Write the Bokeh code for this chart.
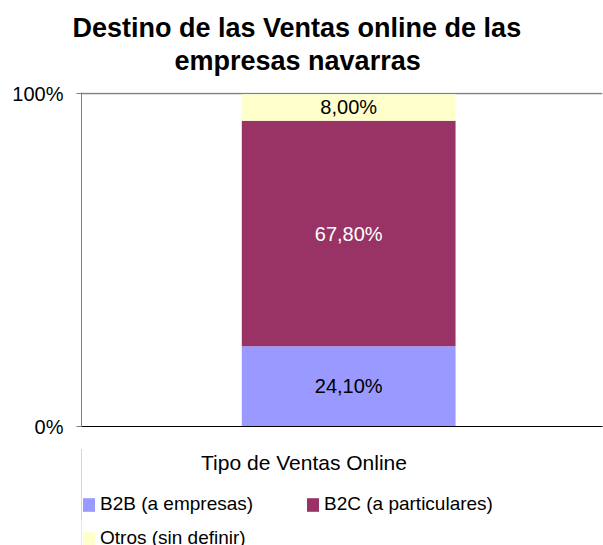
from bokeh.plotting import figure
from bokeh.layouts import column
from bokeh.models import (Range1d, FixedTicker, Title, Legend, LegendItem,
                          ColumnDataSource, Label)
from bokeh.core.properties import value
from bokeh.embed import file_html
from bokeh.resources import INLINE

# ---- data ----
title_lines = ["Destino de las Ventas online de las", "empresas navarras"]
x_title = "Tipo de Ventas Online"
series = ["B2B (a empresas)", "B2C (a particulares)", "Otros (sin definir)"]
values = [24.10, 67.80, 8.00]
colors = ["#9999FF", "#993366", "#FFFFCC"]
label_colors = ["black", "white", "black"]
y_ticks = [0, 100]
y_tick_labels = ["0%", "100%"]

FONT = "Liberation Sans"
W = 603
H_MAIN = 440
H_LEG = 105

bottoms, tops = [], []
acc = 0.0
for v in values:
    bottoms.append(acc)
    acc += v
    tops.append(acc)

# ---------------- main chart ----------------
p = figure(width=W, height=H_MAIN, output_backend="svg", toolbar_location=None,
           x_range=Range1d(-1.0, 0.95), y_range=Range1d(0, 100.4),
           min_border_left=81, min_border_top=92, min_border_bottom=14,
           min_border_right=1, title=None)
p.outline_line_color = None
p.background_fill_color = "white"
p.border_fill_color = "white"

src = ColumnDataSource(dict(
    x=[0.0] * len(values),
    mid=[(b + t) / 2 for b, t in zip(bottoms, tops)],
    txt=[("%.2f%%" % v).replace(".", ",") for v in values],
    tcol=label_colors))

for i in range(len(values)):
    p.vbar(x=[0.0], bottom=[bottoms[i]], top=[tops[i]], width=0.8,
           fill_color=colors[i], line_color=None)

p.text(x="x", y="mid", text="txt", source=src, text_color="tcol",
       text_align="center", text_baseline="middle",
       text_font=value(FONT), text_font_size="20px")

p.xaxis.ticker = FixedTicker(ticks=[])
p.xaxis.major_label_text_font_size = "0px"
p.xaxis.major_label_standoff = 0
p.xaxis.axis_line_color = "black"
p.xaxis.major_tick_line_color = None
p.xaxis.minor_tick_line_color = None

p.yaxis.ticker = FixedTicker(ticks=y_ticks)
p.yaxis.major_label_overrides = {t: l for t, l in zip(y_ticks, y_tick_labels)}
p.yaxis.major_label_text_font = FONT
p.yaxis.major_label_text_font_size = "20px"
p.yaxis.major_label_text_color = "black"
p.yaxis.axis_line_color = "#808080"
p.yaxis.major_tick_line_color = "#808080"
p.yaxis.major_tick_in = 0
p.yaxis.major_tick_out = 5
p.yaxis.minor_tick_line_color = None
p.yaxis.major_label_standoff = 13

p.xgrid.visible = False
p.ygrid.ticker = FixedTicker(ticks=[y_ticks[-1]])
p.ygrid.grid_line_color = "#808080"
p.ygrid.grid_line_width = 1.5
p.ygrid.level = "underlay"

# title (two lines; the first added sits nearest the plot)
p.add_layout(Title(text=title_lines[1], align="left", offset=93,
                   text_font=FONT, text_font_size="27px",
                   text_font_style="bold", text_color="black", standoff=33),
             "above")
p.add_layout(Title(text=title_lines[0], align="left", offset=-9,
                   text_font=FONT, text_font_size="27px",
                   text_font_style="bold", text_color="black", standoff=-31),
             "above")

# ---------------- axis title + legend strip ----------------
q = figure(width=W, height=H_LEG, output_backend="svg", toolbar_location=None,
           x_range=Range1d(10, 11), y_range=Range1d(0, 100),
           x_axis_type=None, y_axis_type=None,
           min_border_left=81, min_border_right=1, min_border_top=0,
           min_border_bottom=0, title=None)
q.outline_line_color = None
q.grid.visible = False
q.background_fill_color = "white"
q.border_fill_color = "white"

leg_renderers = []
for i in range(len(values)):
    r = q.vbar(x=[0.0], bottom=[bottoms[i]], top=[tops[i]], width=0.8,
               fill_color=colors[i], line_color=None)
    leg_renderers.append(r)

q.add_layout(Label(x=222.5, y=83, x_units="screen", y_units="screen",
                   text=x_title, text_align="center", text_baseline="middle",
                   text_font=FONT, text_font_size="21px", text_color="black"))

legend = Legend(items=[LegendItem(label=s, renderers=[r])
                       for s, r in zip(series, leg_renderers)],
                location=(0, -4), orientation="horizontal", ncols=2, nrows=2,
                glyph_width=15, glyph_height=17,
                label_height=17, label_width=193, label_standoff=4, spacing=12,
                padding=0, margin=0, border_line_color=None,
                background_fill_alpha=0, label_text_font=FONT,
                label_text_color="black", label_text_font_size="19px")
q.add_layout(legend, "center")

layout = column(p, q, spacing=0)
open("out.html", "w").write(file_html(layout, INLINE))
